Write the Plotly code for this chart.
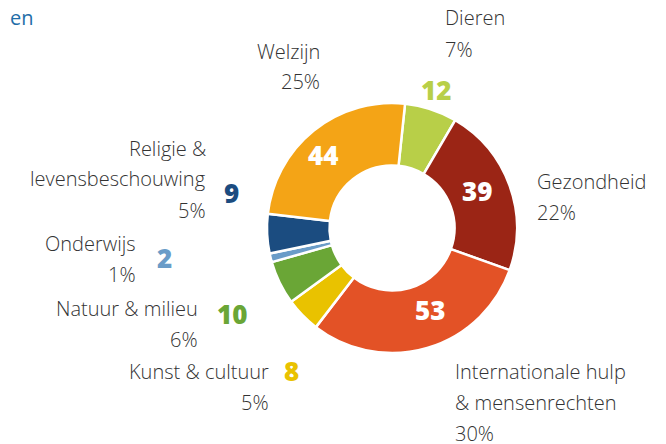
import plotly.graph_objects as go

# data
categories = ["Dieren", "Gezondheid", "Internationale hulp\n& mensenrechten", "Kunst & cultuur",
              "Natuur & milieu", "Onderwijs", "Religie &\nlevensbeschouwing", "Welzijn"]
values = [12, 39, 53, 8, 10, 2, 9, 44]
colors = ["#b8cf48", "#9b2515", "#e35226", "#e9c200", "#6aa636", "#6a9cc8", "#1b4c80", "#f4a416"]
inside = [False, True, True, False, False, False, False, True]

W, H = 666, 444
OFF = 8  # page body margin
cx, cy, R = 392 - OFF, 228 - OFF, 125

total = sum(values)
pcts = [f"{round(v / total * 100)}%" for v in values]

# label layout (screen pixel positions): x, first line y, anchor
label_pos = [
    (443, 18, "left"), (535, 181, "left"), (453, 371, "left"), (271, 371, "right"),
    (200, 308, "right"), (138, 243, "right"), (208, 148, "right"), (322, 51, "right"),
]
num_pos = [(436, 90), (477, 191), (430, 310), (291, 371), (232, 314), (164, 258), (231, 193), (323, 155)]
gap = 31

text_font = dict(family="Open Sans", size=20, color="#333333", weight=300)

fig = go.Figure(go.Pie(
    labels=[c.replace("\n", " ") for c in categories],
    values=values,
    sort=False,
    direction="clockwise",
    rotation=6,
    hole=0.5,
    marker=dict(colors=colors, line=dict(color="white", width=2.5)),
    textinfo="none",
    domain=dict(x=[(cx - R) / W, (cx + R) / W], y=[1 - (cy + R) / H, 1 - (cy - R) / H]),
    hoverinfo="label+value+percent",
    showlegend=False,
))

def px(x, y):
    return (x - OFF) / W, 1 - (y - OFF) / H

anns = []
for cat, pct, (lx, ly, anchor) in zip(categories, pcts, label_pos):
    lines = cat.split("\n") + [pct]
    for k, line in enumerate(lines):
        x, y = px(lx, ly + k * gap)
        anns.append(dict(x=x, y=y, xref="paper", yref="paper", text=line, showarrow=False,
                         xanchor=anchor, yanchor="middle", font=text_font))

for v, c, ins, pos in zip(values, colors, inside, num_pos):
    x, y = px(*pos)
    anns.append(dict(x=x, y=y, xref="paper", yref="paper", text=str(v), showarrow=False,
                     xanchor="center", yanchor="middle",
                     font=dict(family="Open Sans", size=26, color="white" if ins else c, weight=800)))

# clipped title fragment at top-left
x, y = px(OFF, 18)
anns.append(dict(x=x, y=y, xref="paper", yref="paper", text="en", showarrow=False,
                 xanchor="left", yanchor="middle",
                 font=dict(family="Open Sans", size=20, color="#1f6ea8", weight=400)))

fig.update_layout(
    width=W, height=H,
    margin=dict(l=0, r=0, t=0, b=0),
    paper_bgcolor="white",
    plot_bgcolor="white",
    annotations=anns,
)

fig.write_html("out.html")
